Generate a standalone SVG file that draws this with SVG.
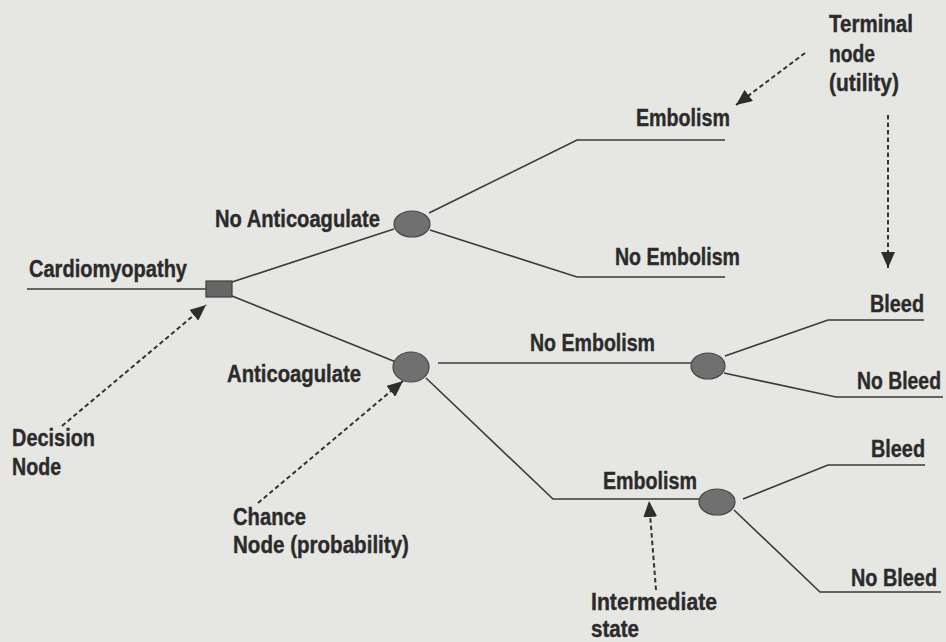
<svg xmlns="http://www.w3.org/2000/svg" width="946" height="642" viewBox="0 0 946 642">
<style>
.t{font-family:"Liberation Sans",Arial,sans-serif;font-weight:bold;font-size:24px;fill:#2b2b2b;stroke:#2b2b2b;stroke-width:0.4}
.ln{fill:none;stroke:#3a3a3a;stroke-width:1.6}
.ds{fill:none;stroke:#333;stroke-width:2;stroke-dasharray:4.5 3}
.ch{fill:#707070;stroke:#454545;stroke-width:1.2}
.dc{fill:#666;stroke:#3e3e3e;stroke-width:1.2}
</style>
<defs>
<marker id="ah" markerUnits="userSpaceOnUse" markerWidth="16" markerHeight="14" viewBox="0 0 16 14" refX="16" refY="7" orient="auto">
<path d="M0,0 L16,7 L0,14 Z" fill="#2e2e2e"/>
</marker>
</defs>
<rect width="946" height="642" fill="#e6e6e3"/>
<g id="connectors">
<polyline class="ln" points="27,289 206,289"/>
<polyline class="ln" points="232,282 394,229"/>
<polyline class="ln" points="429,213 577,140 725,140"/>
<polyline class="ln" points="430,230 577,277 725,277"/>
<polyline class="ln" points="232,296 396,362"/>
<polyline class="ln" points="438,363 691,363"/>
<polyline class="ln" points="725,356 828,320 924,320"/>
<polyline class="ln" points="724,373 836,397 943,397"/>
<polyline class="ln" points="426,378 553,499 700,499"/>
<polyline class="ln" points="743,499 828,465 925,465"/>
<polyline class="ln" points="734,510 820,592 941,592"/>
<line class="ds" x1="805" y1="53" x2="736" y2="105" marker-end="url(#ah)"/>
<line class="ds" x1="888" y1="115" x2="888" y2="268" marker-end="url(#ah)"/>
<line class="ds" x1="62" y1="426" x2="206" y2="305" marker-end="url(#ah)"/>
<line class="ds" x1="258" y1="503" x2="403" y2="381" marker-end="url(#ah)"/>
<line class="ds" x1="656" y1="590" x2="649" y2="501" marker-end="url(#ah)"/>
</g>
<g id="decision">
<rect class="dc" x="206" y="281" width="26" height="16"/>
<text class="t" transform="translate(29,277) scale(0.82,1)" textLength="192.7" lengthAdjust="spacingAndGlyphs">Cardiomyopathy</text>
</g>
<g id="chance-no-anticoagulate">
<ellipse class="ch" cx="412" cy="224" rx="18" ry="13"/>
<text class="t" transform="translate(215,227) scale(0.82,1)" textLength="201.2" lengthAdjust="spacingAndGlyphs">No Anticoagulate</text>
</g>
<g id="chance-anticoagulate">
<ellipse class="ch" cx="411" cy="367" rx="18" ry="15"/>
<text class="t" transform="translate(227,382) scale(0.82,1)" textLength="163.4" lengthAdjust="spacingAndGlyphs">Anticoagulate</text>
</g>
<g id="terminal-embolism-1">
<text class="t" transform="translate(636,126) scale(0.82,1)" textLength="114.6" lengthAdjust="spacingAndGlyphs">Embolism</text>
</g>
<g id="terminal-no-embolism-1">
<text class="t" transform="translate(615,265) scale(0.82,1)" textLength="152.4" lengthAdjust="spacingAndGlyphs">No Embolism</text>
</g>
<g id="chance-no-embolism">
<ellipse class="ch" cx="708" cy="366" rx="17" ry="13"/>
<text class="t" transform="translate(530,351) scale(0.82,1)" textLength="152.4" lengthAdjust="spacingAndGlyphs">No Embolism</text>
</g>
<g id="terminal-bleed-1">
<text class="t" transform="translate(870,312) scale(0.82,1)" textLength="65.9" lengthAdjust="spacingAndGlyphs">Bleed</text>
</g>
<g id="terminal-no-bleed-1">
<text class="t" transform="translate(857,389) scale(0.82,1)" textLength="102.4" lengthAdjust="spacingAndGlyphs">No Bleed</text>
</g>
<g id="chance-embolism">
<ellipse class="ch" cx="717" cy="502" rx="18" ry="13"/>
<text class="t" transform="translate(603,489) scale(0.82,1)" textLength="114.6" lengthAdjust="spacingAndGlyphs">Embolism</text>
</g>
<g id="terminal-bleed-2">
<text class="t" transform="translate(871,457) scale(0.82,1)" textLength="65.9" lengthAdjust="spacingAndGlyphs">Bleed</text>
</g>
<g id="terminal-no-bleed-2">
<text class="t" transform="translate(851,586) scale(0.82,1)" textLength="104.9" lengthAdjust="spacingAndGlyphs">No Bleed</text>
</g>
<g id="label-terminal">
<text class="t" transform="translate(829,32) scale(0.82,1)" textLength="102.4" lengthAdjust="spacingAndGlyphs">Terminal</text>
<text class="t" transform="translate(829,62) scale(0.82,1)" textLength="56.1" lengthAdjust="spacingAndGlyphs">node</text>
<text class="t" transform="translate(829,91) scale(0.82,1)" textLength="85.4" lengthAdjust="spacingAndGlyphs">(utility)</text>
</g>
<g id="label-decision">
<text class="t" transform="translate(12,446) scale(0.82,1)" textLength="101.2" lengthAdjust="spacingAndGlyphs">Decision</text>
<text class="t" transform="translate(12,475) scale(0.82,1)" textLength="59.8" lengthAdjust="spacingAndGlyphs">Node</text>
</g>
<g id="label-chance">
<text class="t" transform="translate(233,525) scale(0.82,1)" textLength="89" lengthAdjust="spacingAndGlyphs">Chance</text>
<text class="t" transform="translate(233,553) scale(0.82,1)" textLength="214.6" lengthAdjust="spacingAndGlyphs">Node (probability)</text>
</g>
<g id="label-intermediate">
<text class="t" transform="translate(591,610) scale(0.82,1)" textLength="153.7" lengthAdjust="spacingAndGlyphs">Intermediate</text>
<text class="t" transform="translate(591,637) scale(0.82,1)" textLength="58.5" lengthAdjust="spacingAndGlyphs">state</text>
</g>
</svg>
